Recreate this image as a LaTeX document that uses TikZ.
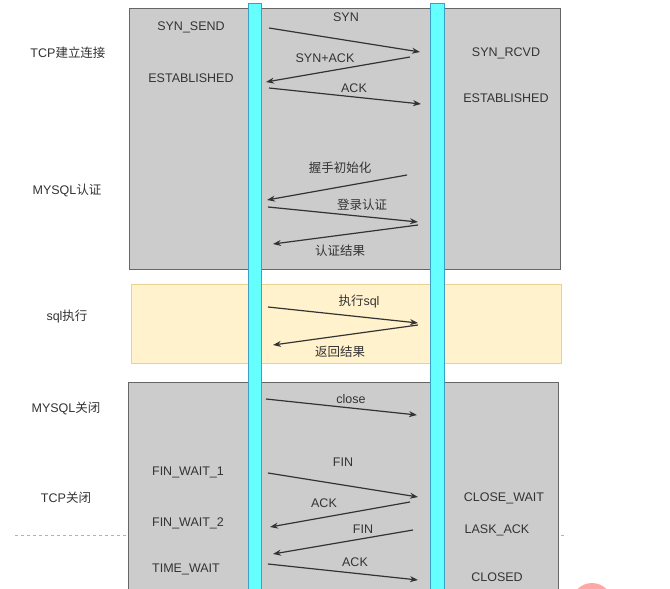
\documentclass[tikz,border=0pt]{standalone}
\usepackage{fontspec}
\setmainfont{Liberation Sans}
\newfontfamily\cjk{Noto Sans CJK SC}
\usetikzlibrary{arrows.meta}

\definecolor{boxgray}{HTML}{CCCCCC}
\definecolor{boxline}{HTML}{666666}
\definecolor{sqlfill}{HTML}{FFF2CC}
\definecolor{sqlline}{HTML}{E8D28E}
\definecolor{barfill}{HTML}{66FFFF}
\definecolor{barline}{HTML}{3AA0C8}
\definecolor{txt}{HTML}{333333}

\begin{document}
\begin{tikzpicture}[x=1pt, y=-1pt, font=\fontsize{12.5}{14}\selectfont]
		% Styles
		\tikzstyle{phase} = [draw=boxline, fill=boxgray, line width=1pt]
		\tikzstyle{sqlphase} = [draw=sqlline, fill=sqlfill, line width=1pt]
		\tikzstyle{lifeline} = [draw=barline, fill=barfill, line width=1pt]
		\tikzstyle{state} = [text=txt, inner sep=1pt]
		\tikzstyle{msg} = [text=txt, inner sep=1pt]
		\tikzstyle{arrow} = [line width=1.2pt, draw=black!80, -{Stealth[length=8pt, width=6pt]}]
		
		\clip (0,0) rectangle (670,589);
		\fill[white] (0,0) rectangle (670,589);
		
		% Background
		\draw[black!30, dashed] (15,535) -- (567,535);
		\fill[red!35] (592,603) circle (20);
		\draw[phase] (129,8) rectangle (560,269);
		\draw[sqlphase] (131,284) rectangle (561,363);
		\draw[phase] (128,382) rectangle (558,600);
		\draw[lifeline] (248,3) rectangle (261,600);
		\draw[lifeline] (430,3) rectangle (444,600);
		
		% Phase labels
		\node[state] (tcpOpen) at (68,53) {TCP{\cjk 建立连接}};
		\node[state] (mysqlAuth) at (67,190) {MYSQL{\cjk 认证}};
		\node[state] (sqlRun) at (67,317) {sql{\cjk 执行}};
		\node[state] (mysqlClose) at (66,408) {MYSQL{\cjk 关闭}};
		\node[state] (tcpClose) at (66,498) {TCP{\cjk 关闭}};
		
		% States
		\node[state] (synSend) at (191,27) {SYN\_SEND};
		\node[state] (estClient) at (191,78) {ESTABLISHED};
		\node[state] (synRcvd) at (506,53) {SYN\_RCVD};
		\node[state] (estServer) at (506,98) {ESTABLISHED};
		\node[state] (finWaitOne) at (188,472) {FIN\_WAIT\_1};
		\node[state] (finWaitTwo) at (188,523) {FIN\_WAIT\_2};
		\node[state] (timeWait) at (186,569) {TIME\_WAIT};
		\node[state] (closeWait) at (504,498) {CLOSE\_WAIT};
		\node[state] (laskAck) at (497,530) {LASK\_ACK};
		\node[state] (closed) at (497,577) {CLOSED};
		
		% Message ends
		\coordinate (synA) at (269,28);   \coordinate (synB) at (420,52);
		\coordinate (synAckA) at (410,57); \coordinate (synAckB) at (266,82);
		\coordinate (ackA) at (269,88);   \coordinate (ackB) at (421,104);
		\coordinate (helloA) at (407,175); \coordinate (helloB) at (267,200);
		\coordinate (loginA) at (268,207); \coordinate (loginB) at (418,222);
		\coordinate (resultA) at (418,225); \coordinate (resultB) at (273,244);
		\coordinate (execA) at (268,307); \coordinate (execB) at (418,323);
		\coordinate (returnA) at (418,325); \coordinate (returnB) at (273,345);
		\coordinate (closeA) at (266,399); \coordinate (closeB) at (417,415);
		\coordinate (finA) at (268,473);  \coordinate (finB) at (418,497);
		\coordinate (finAckA) at (410,502); \coordinate (finAckB) at (270,527);
		\coordinate (lastFinA) at (413,530); \coordinate (lastFinB) at (273,554);
		\coordinate (lastAckA) at (268,564); \coordinate (lastAckB) at (418,580);
		
		% Arrows
		\draw[arrow] (synA) -- (synB);
		\draw[arrow] (synAckA) -- (synAckB);
		\draw[arrow] (ackA) -- (ackB);
		\draw[arrow] (helloA) -- (helloB);
		\draw[arrow] (loginA) -- (loginB);
		\draw[arrow] (resultA) -- (resultB);
		\draw[arrow] (execA) -- (execB);
		\draw[arrow] (returnA) -- (returnB);
		\draw[arrow] (closeA) -- (closeB);
		\draw[arrow] (finA) -- (finB);
		\draw[arrow] (finAckA) -- (finAckB);
		\draw[arrow] (lastFinA) -- (lastFinB);
		\draw[arrow] (lastAckA) -- (lastAckB);
		
		% Message labels
		\node[msg] (synLabel) at (346,17) {SYN};
		\node[msg] (synAckLabel) at (325,58) {SYN+ACK};
		\node[msg] (ackLabel) at (354,88) {ACK};
		\node[msg] (helloLabel) at (340,168) {\cjk 握手初始化};
		\node[msg] (loginLabel) at (362,205) {\cjk 登录认证};
		\node[msg] (resultLabel) at (340,251) {\cjk 认证结果};
		\node[msg] (execLabel) at (359,302) {{\cjk 执行}sql};
		\node[msg] (returnLabel) at (340,352) {\cjk 返回结果};
		\node[msg] (closeLabel) at (351,399) {close};
		\node[msg] (finLabel) at (343,462) {FIN};
		\node[msg] (finAckLabel) at (324,503) {ACK};
		\node[msg] (lastFinLabel) at (363,529) {FIN};
		\node[msg] (lastAckLabel) at (355,562) {ACK};
	\end{tikzpicture}
\end{document}
